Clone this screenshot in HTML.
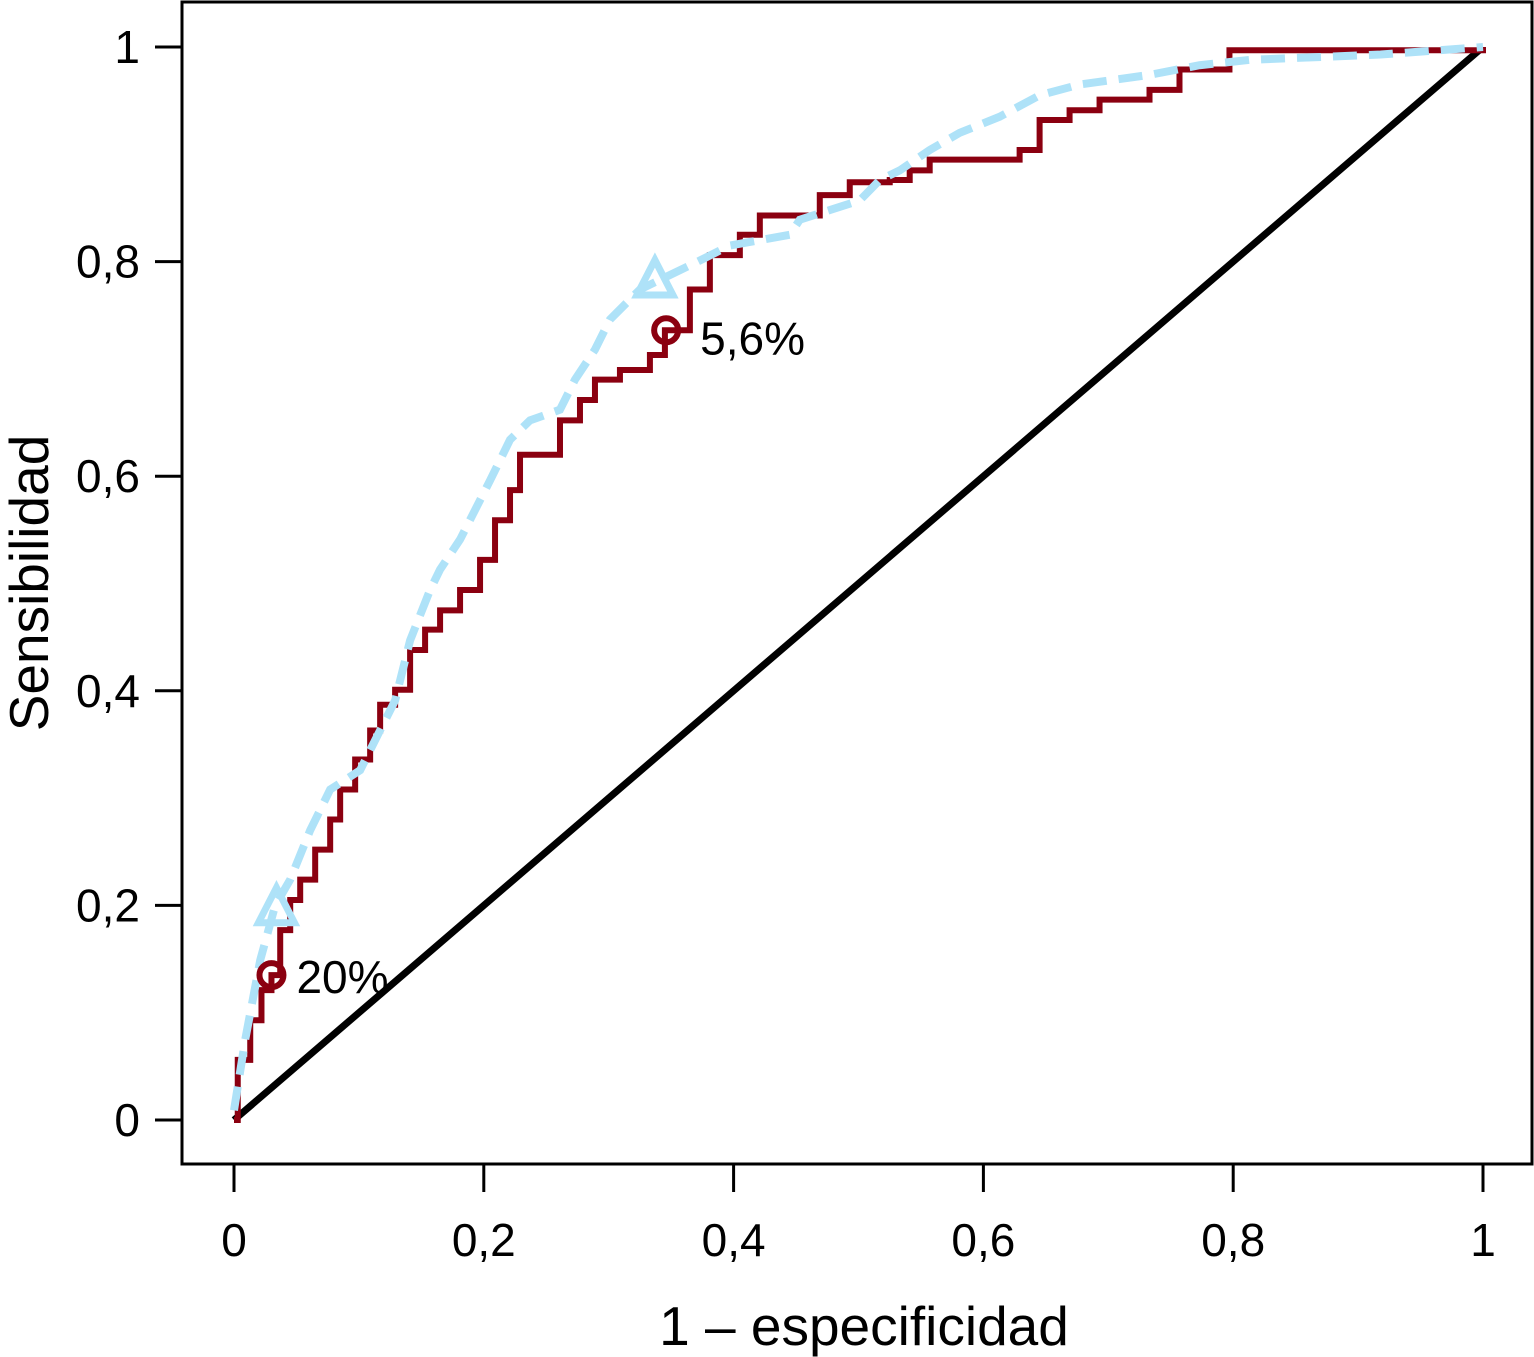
<!DOCTYPE html>
<html><head><meta charset="utf-8">
<style>
html,body{margin:0;padding:0;background:#fff;}
svg{display:block;font-family:"Liberation Sans",Arial,sans-serif;}
</style></head>
<body>
<svg id="chart" width="1534" height="1357" viewBox="0 0 1534 1357">
<rect x="182" y="2" width="1350" height="1162" fill="none" stroke="#000" stroke-width="3"/>
<g id="axes"></g>
<g id="marks"></g>
<text x="864" y="1345" font-size="55" text-anchor="middle">1 – especificidad</text>
<text transform="translate(48,583) rotate(-90)" font-size="55" text-anchor="middle">Sensibilidad</text>
</svg>
<script>
const ticks=[0,0.2,0.4,0.6,0.8,1];
const tickLabels=["0","0,2","0,4","0,6","0,8","1"];
const redX=[0,0.003,0.013,0.022,0.030,0.037,0.045,0.053,0.065,0.077,0.085,0.097,0.109,0.117,0.129,0.141,0.153,0.165,0.181,0.197,0.209,0.221,0.229,0.249,0.261,0.277,0.289,0.309,0.333,0.345,0.365,0.381,0.405,0.421,0.453,0.469,0.493,0.525,0.541,0.557,0.605,0.629,0.645,0.669,0.693,0.733,0.757,0.797,1];
const redY=[0,0.056,0.093,0.121,0.135,0.177,0.205,0.224,0.252,0.280,0.308,0.336,0.363,0.387,0.401,0.438,0.457,0.475,0.494,0.522,0.559,0.587,0.620,0.620,0.652,0.671,0.690,0.699,0.713,0.736,0.774,0.806,0.825,0.843,0.843,0.862,0.874,0.876,0.885,0.895,0.895,0.904,0.932,0.941,0.951,0.960,0.979,0.997,1];
const blueX=[0,0.009,0.021,0.033,0.045,0.061,0.077,0.101,0.113,0.129,0.141,0.157,0.165,0.181,0.205,0.221,0.237,0.261,0.273,0.289,0.301,0.325,0.341,0.373,0.397,0.421,0.445,0.453,0.477,0.501,0.517,0.533,0.557,0.581,0.613,0.645,0.677,0.733,0.773,0.813,0.918,1];
const blueY=[0.009,0.075,0.149,0.200,0.224,0.270,0.308,0.326,0.354,0.391,0.447,0.494,0.513,0.541,0.596,0.634,0.652,0.662,0.690,0.718,0.746,0.774,0.783,0.801,0.815,0.820,0.825,0.839,0.848,0.857,0.876,0.885,0.904,0.920,0.935,0.955,0.965,0.974,0.983,0.988,0.993,1];
const circleX=[0.030,0.346];
const circleY=[0.135,0.736];
const circleLabels=["20%","5,6%"];
const triX=[0.034,0.337];
const triY=[0.196,0.781];

const sx=v=>234+v*1249, sy=v=>1120-v*1073;
const NS="http://www.w3.org/2000/svg";
const axes=document.getElementById('axes'), marks=document.getElementById('marks');
function mk(tag,attrs,parent){const e=document.createElementNS(NS,tag);for(const k in attrs)e.setAttribute(k,attrs[k]);parent.appendChild(e);return e;}
ticks.forEach((t,i)=>{
  let l=mk('line',{x1:155,x2:182,y1:sy(t),y2:sy(t),stroke:'#000','stroke-width':3},axes);
  
  
  let tx=mk('text',{x:140,y:sy(t)+16,'font-size':46,'text-anchor':'end'},axes);tx.textContent=tickLabels[i];
  
  
  let l2=mk('line',{x1:sx(t),x2:sx(t),y1:1164,y2:1192,stroke:'#000','stroke-width':3},axes);
  
  
  let tx2=mk('text',{x:sx(t),y:1256,'font-size':46,'text-anchor':'middle'},axes);tx2.textContent=tickLabels[i];
  
  
});
let diag=mk('line',{x1:sx(0),y1:sy(0),x2:sx(1),y2:sy(1),stroke:'#000','stroke-width':7},marks);


let d='M'+sx(redX[0])+' '+sy(redY[0]);
for(let i=1;i<redX.length;i++){d+=' H'+sx(redX[i])+' V'+sy(redY[i]);}
let rp=mk('path',{d:d,fill:'none',stroke:'#8b0010','stroke-width':6},marks);


let bd='M'+blueX.map((x,i)=>sx(x)+' '+sy(blueY[i])).join(' L');
let bp=mk('path',{d:bd,fill:'none',stroke:'#aee2f8','stroke-width':8,'stroke-dasharray':'24 12'},marks);


triX.forEach((x,i)=>{
  const cx=sx(x),cy=sy(triY[i]);
  let t=mk('polygon',{points:`${cx},${cy-22} ${cx-18},${cy+13} ${cx+18},${cy+13}`,fill:'none',stroke:'#aee2f8','stroke-width':7},marks);
  
  
});
circleX.forEach((x,i)=>{
  let c=mk('circle',{cx:sx(x),cy:sy(circleY[i]),r:12,fill:'none',stroke:'#8b0010','stroke-width':6},marks);
  
  
  let t=mk('text',{x:sx(x)+(i==0?25:34),y:sy(circleY[i])+(i==0?18:24),'font-size':46},marks);
  t.textContent=circleLabels[i];
  
  
});
</script>
</body></html>
